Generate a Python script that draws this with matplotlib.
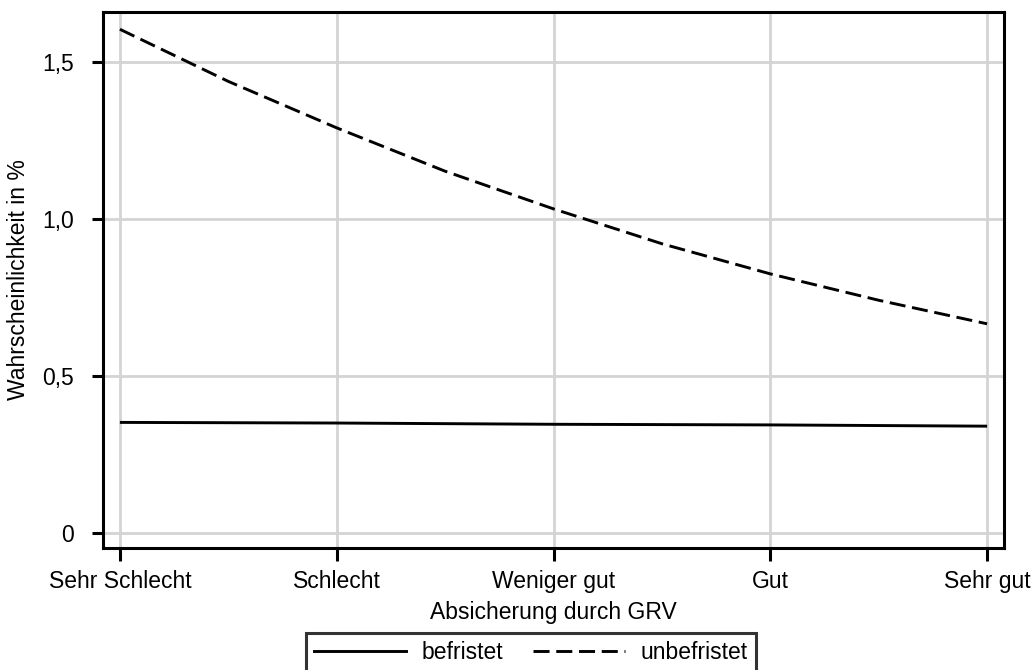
import matplotlib
matplotlib.use("Agg")
import matplotlib.pyplot as plt
from matplotlib.lines import Line2D

plt.rcParams['font.family'] = ['Liberation Sans', 'DejaVu Sans']

categories = ["Sehr Schlecht", "Schlecht", "Weniger gut", "Gut", "Sehr gut"]
x_read = [1.0, 1.5, 2.0, 2.5, 3.0, 3.5, 4.0, 4.5, 5.0]
befristet = [0.352, 0.351, 0.350, 0.348, 0.346, 0.345, 0.344, 0.342, 0.340]
unbefristet = [1.604, 1.438, 1.290, 1.152, 1.032, 0.921, 0.825, 0.741, 0.666]
yticks = [0, 0.5, 1.0, 1.5]
ytick_labels = ["0", "0,5", "1,0", "1,5"]

W, H = 1035, 670
fig = plt.figure(figsize=(W / 100, H / 100), dpi=100)
ax = fig.add_axes([103 / W, (H - 548) / H, (1004 - 103) / W, (548 - 12) / H])

fs = 16.5
grid_c = "#d4d4d4"

ax.plot(x_read, befristet, color="black", lw=2.1, solid_capstyle="butt", zorder=3)
ax.plot(x_read, unbefristet, color="black", lw=2.1, dashes=(5.5, 2.3), zorder=3)

ax.set_xlim(0.922, 5.078)
ax.set_ylim(-0.048, 1.659)
ax.set_xticks(range(1, 6))
ax.set_xticklabels(categories, fontsize=fs)
ax.set_yticks(yticks)
ax.set_yticklabels(ytick_labels, fontsize=fs)
ax.grid(True, color=grid_c, lw=2.0)
ax.set_axisbelow(True)

for s in ax.spines.values():
    s.set_linewidth(2.2)
ax.tick_params(axis="x", length=9.5, width=2.2, pad=6)
ax.tick_params(axis="y", length=8, width=2.2, pad=13)

ax.set_xlabel("Absicherung durch GRV", fontsize=fs, labelpad=6)
ax.set_ylabel("Wahrscheinlichkeit in %", fontsize=fs, labelpad=9)

handles = [Line2D([], [], color="black", lw=2.1),
           Line2D([], [], color="black", lw=2.1, dashes=(5.5, 2.3))]
leg = fig.legend(handles, ["befristet", "unbefristet"], ncol=2,
                 loc="upper center", bbox_to_anchor=(531 / W, (H - 633) / H),
                 fontsize=fs, frameon=True, fancybox=False, edgecolor="black",
                 handlelength=4.0, handletextpad=0.7, columnspacing=1.3,
                 borderpad=0.35, borderaxespad=0)
leg.get_frame().set_linewidth(2.2)

fig.savefig("out.png", dpi=100)
